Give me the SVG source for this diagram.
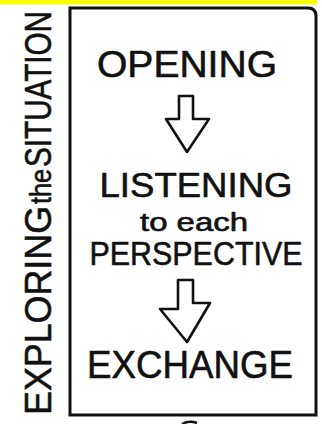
<svg xmlns="http://www.w3.org/2000/svg" width="322" height="424" viewBox="0 0 322 424">
<style>
.t{font-family:"Liberation Sans","DejaVu Sans",sans-serif;fill:#111;stroke:#111;stroke-width:0.6;stroke-linejoin:round;}
.arr{fill:#fff;stroke:#111;stroke-width:2.6;stroke-linejoin:round;}
.box{fill:none;stroke:#111;stroke-width:3;}
</style>
<rect x="0" y="0" width="317" height="4.5" fill="#ffff00"/>
<g id="side-label">
<g transform="translate(51,415) rotate(-90)">
<text class="t" x="0" y="0" font-size="37" textLength="209" lengthAdjust="spacingAndGlyphs">EXPLORING</text>
<text class="t" x="211" y="0" font-size="29" textLength="35" lengthAdjust="spacingAndGlyphs">the</text>
<text class="t" x="248" y="0" font-size="37" textLength="156" lengthAdjust="spacingAndGlyphs">SITUATION</text>
</g>
</g>
<g id="frame">
<path class="box" d="M70 415 L70 8 L308 8 Q316 8 316 16 L316 415 Z"/>
<path d="M182 424 Q189 420 197 423" fill="none" stroke="#111" stroke-width="2.5"/>
</g>
<g id="opening">
<text class="t" x="187" y="77" font-size="36" text-anchor="middle" textLength="180" lengthAdjust="spacingAndGlyphs">OPENING</text>
</g>
<g id="listening">
<text class="t" x="196" y="197" font-size="35" text-anchor="middle" textLength="193" lengthAdjust="spacingAndGlyphs">LISTENING</text>
<text class="t" x="194" y="231" font-size="25" text-anchor="middle" textLength="108" lengthAdjust="spacingAndGlyphs">to each</text>
<text class="t" x="196" y="265" font-size="34" text-anchor="middle" textLength="213" lengthAdjust="spacingAndGlyphs">PERSPECTIVE</text>
</g>
<g id="exchange">
<text class="t" x="190" y="378" font-size="38" text-anchor="middle" textLength="206" lengthAdjust="spacingAndGlyphs">EXCHANGE</text>
</g>
<g id="connectors">
<path class="arr" d="M179 96 L193 96 L193 119 L209 119 L187 152 L166 119 L179 119 Z"/>
<path class="arr" d="M178 280 L193 280 L193 303 L210 303 L187 342 L160 309 L178 309 Z"/>
</g>
</svg>
